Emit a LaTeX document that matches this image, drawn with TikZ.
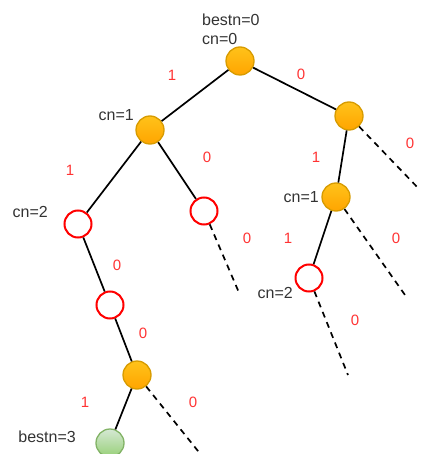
\documentclass[tikz,border=0pt]{standalone}
\usepackage{fontspec}
\setmainfont{Liberation Sans}
\definecolor{orfill1}{HTML}{FFC21A}
\definecolor{orfill2}{HTML}{FFA500}
\definecolor{orline}{HTML}{D79B00}
\definecolor{grfill1}{HTML}{D5E8D4}
\definecolor{grfill2}{HTML}{97D077}
\definecolor{grline}{HTML}{82B366}
\definecolor{lblred}{HTML}{FF3333}
\definecolor{txtgray}{HTML}{333333}
\tikzset{
  orange node/.style={circle, minimum size=28pt, inner sep=0pt, draw=orline, line width=1.3pt, top color=orfill1, bottom color=orfill2},
  red node/.style={circle, minimum size=27pt, inner sep=0pt, draw=red, line width=2pt, fill=white},
  green node/.style={circle, minimum size=28pt, inner sep=0pt, draw=grline, line width=1.3pt, top color=grfill1, bottom color=grfill2},
  edge line/.style={line width=1.7pt, black},
  cut line/.style={line width=1.7pt, black, dash pattern=on 6pt off 5pt},
  bit/.style={text=lblred, font=\fontsize{15}{17}\selectfont, inner sep=0pt},
  info/.style={text=txtgray, font=\fontsize{16}{18}\selectfont, inner sep=0pt},
}
\begin{document}
\begin{tikzpicture}[x=1pt, y=-1pt]
\useasboundingbox (0,0) rectangle (423,454);
% nodes
\node[orange node] (r) at (240,61) {};
\node[orange node] (a) at (150,130) {};
\node[orange node] (b) at (349,116) {};
\node[red node] (c) at (78,224) {};
\node[red node] (d) at (204,211) {};
\node[orange node] (e) at (336,197) {};
\node[red node] (f) at (309,278) {};
\node[red node] (g) at (110,305) {};
\node[orange node] (h) at (137,375) {};
\node[green node] (i) at (110,443) {};
% free ends
\coordinate (bx) at (420,190);
\coordinate (dx) at (240,295);
\coordinate (ex) at (405,295);
\coordinate (fx) at (348,375);
\coordinate (hx) at (202,456);
% edges
\draw[edge line] (r) -- (a);
\draw[edge line] (r) -- (b);
\draw[edge line] (a) -- (c);
\draw[edge line] (a) -- (d);
\draw[edge line] (b) -- (e);
\draw[edge line] (e) -- (f);
\draw[edge line] (c) -- (g);
\draw[edge line] (g) -- (h);
\draw[edge line] (h) -- (i);
\draw[cut line] (b) -- (bx);
\draw[cut line] (d) -- (dx);
\draw[cut line] (e) -- (ex);
\draw[cut line] (f) -- (fx);
\draw[cut line] (h) -- (hx);
% text labels
\node[info, anchor=west] (t1) at (202,20) {bestn=0};
\node[info, anchor=west] (t2) at (202,39) {cn=0};
\node[info, anchor=east] (t3) at (134,115) {cn=1};
\node[info, anchor=east] (t4) at (48,212) {cn=2};
\node[info, anchor=east] (t5) at (319,197) {cn=1};
\node[info, anchor=east] (t6) at (293,293) {cn=2};
\node[info, anchor=east] (t7) at (76,437) {bestn=3};
% bit labels
\node[bit] (l1) at (172,75) {1};
\node[bit] (l2) at (301,74) {0};
\node[bit] (l3) at (70,170) {1};
\node[bit] (l4) at (207,157) {0};
\node[bit] (l5) at (316,157) {1};
\node[bit] (l6) at (410,143) {0};
\node[bit] (l7) at (247,238) {0};
\node[bit] (l8) at (288,238) {1};
\node[bit] (l9) at (396,238) {0};
\node[bit] (l10) at (117,265) {0};
\node[bit] (l11) at (355,320) {0};
\node[bit] (l12) at (143,333) {0};
\node[bit] (l13) at (85,402) {1};
\node[bit] (l14) at (193,402) {0};
\end{tikzpicture}
\end{document}
